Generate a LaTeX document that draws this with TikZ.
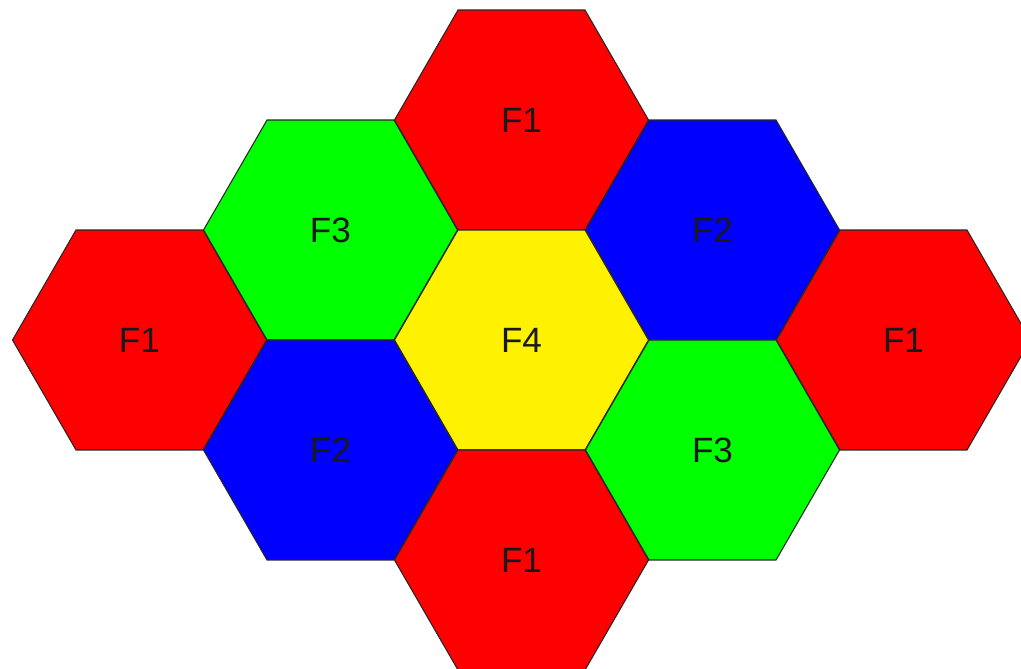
\documentclass[tikz,border=0pt]{standalone}
\usepackage{fontspec}
\setmainfont{Liberation Sans}
\usetikzlibrary{shapes.geometric}

\tikzset{
  hexcell/.style={regular polygon, regular polygon sides=6, minimum size=5.08cm,
    inner sep=0pt, outer sep=0pt, draw=black!85, line width=0.6pt,
    text=black!90, font=\fontsize{20}{24}\selectfont},
}

\begin{document}
\begin{tikzpicture}
\useasboundingbox (0,0) rectangle (20.42,13.36);
% top
\node[hexcell,fill=red] (ftop) at (10.43,10.96) {F1};
% second row
\node[hexcell,fill=green] (fthreeup) at (6.61,8.76) {F3};
\node[hexcell,fill=blue] (ftwoup) at (14.25,8.76) {F2};
% middle row
\node[hexcell,fill=red] (fleft) at (2.79,6.56) {F1};
\node[hexcell,fill=yellow] (fcenter) at (10.43,6.56) {F4};
\node[hexcell,fill=red] (fright) at (18.07,6.56) {F1};
% fourth row
\node[hexcell,fill=blue] (ftwodown) at (6.61,4.36) {F2};
\node[hexcell,fill=green] (fthreedown) at (14.25,4.36) {F3};
% bottom
\node[hexcell,fill=red] (fbottom) at (10.43,2.16) {F1};

\end{tikzpicture}
\end{document}
